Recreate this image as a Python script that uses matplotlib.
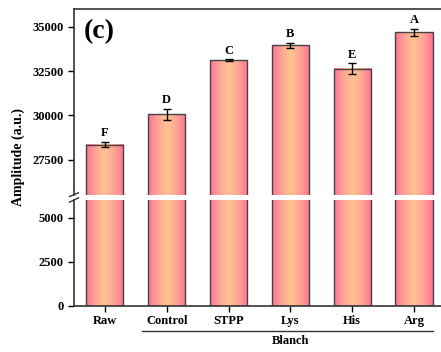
import numpy as np
import matplotlib.pyplot as plt
from matplotlib.colors import LinearSegmentedColormap

# === Data ===
groups = ["Raw", "Control", "STPP", "Lys", "His", "Arg"]
amplitude = [28350, 30060, 33120, 33950, 32630, 34680]
errors = [150, 320, 40, 150, 300, 200]
letters = ["F", "D", "C", "B", "E", "A"]

plt.rcParams['font.family'] = ['Liberation Serif', 'DejaVu Serif']
plt.rcParams['font.weight'] = 'bold'

fig = plt.figure(figsize=(4.41, 3.52), dpi=100)
ax_top = fig.add_axes([0.1678, 0.446, 0.841, 0.5284])
ax_bot = fig.add_axes([0.1678, 0.1315, 0.841, 0.3003])

cmap = LinearSegmentedColormap.from_list("pk", ["#ff7394", "#ffa596", "#ffc58f", "#ffa596", "#ff7394"])
grad = np.linspace(0, 1, 64).reshape(1, -1)
width = 0.6
x = np.arange(len(groups))

for ax in (ax_top, ax_bot):
    for xi, v in zip(x, amplitude):
        ax.imshow(grad, cmap=cmap, aspect='auto', extent=(xi - width / 2, xi + width / 2, 0, v),
                  origin='lower', zorder=1, interpolation='bicubic')
    ax.bar(x, amplitude, width=width, facecolor='none', edgecolor='#444444', linewidth=1.0, zorder=2)
    ax.errorbar(x, amplitude, yerr=errors, fmt='none', ecolor='black', elinewidth=1.0,
                capsize=3, capthick=1.0, zorder=3)
    ax.set_xlim(-0.5, 5.5)
    ax.tick_params(axis='y', direction='out', length=4, width=1, labelsize=9)
    for s in ax.spines.values():
        s.set_linewidth(1.2)
        s.set_color('#333333')
    ax.spines['right'].set_visible(False)

ax_top.set_ylim(25500, 36000)
ax_top.set_yticks([27500, 30000, 32500, 35000])
ax_top.spines['bottom'].set_visible(False)
ax_top.tick_params(axis='x', bottom=False, labelbottom=False)

ax_bot.set_ylim(0, 6000)
ax_bot.set_yticks([0, 2500, 5000])
ax_bot.spines['top'].set_visible(False)
ax_bot.set_xticks(x)
ax_bot.set_xticklabels(groups, fontsize=9, fontweight='bold')
ax_bot.tick_params(axis='x', direction='out', length=4, width=1, pad=3)

# significance letters
for xi, v, e, t in zip(x, amplitude, errors, letters):
    ax_top.annotate(t, (xi, v + e), xytext=(0, 2), textcoords='offset points',
                    ha='center', va='bottom', fontsize=9, fontweight='bold')

# break marks
d = 0.012
kw = dict(color='#333333', clip_on=False, linewidth=1.0)
ax_top.plot([-d, d], [-0.008, 0.012], transform=ax_top.transAxes, **kw)
ax_bot.plot([-d, d], [0.98, 1.02], transform=ax_bot.transAxes, **kw)

# group line and label
tr = ax_bot.get_xaxis_transform()
ax_bot.plot([0.6, 5.3], [-0.236, -0.236], transform=tr, color='#333333', linewidth=1.0, clip_on=False)
ax_bot.text(3.0, -0.33, "Blanch", transform=tr, ha='center', va='center', fontsize=9, fontweight='bold')

fig.text(0.041, 0.555, "Amplitude (a.u.)", rotation=90, ha='center', va='center',
         fontsize=10, fontweight='bold')
ax_top.text(0.025, 0.945, "(c)", transform=ax_top.transAxes, ha='left', va='top',
            fontsize=20, fontweight='bold')

fig.savefig("out.png", dpi=100)
